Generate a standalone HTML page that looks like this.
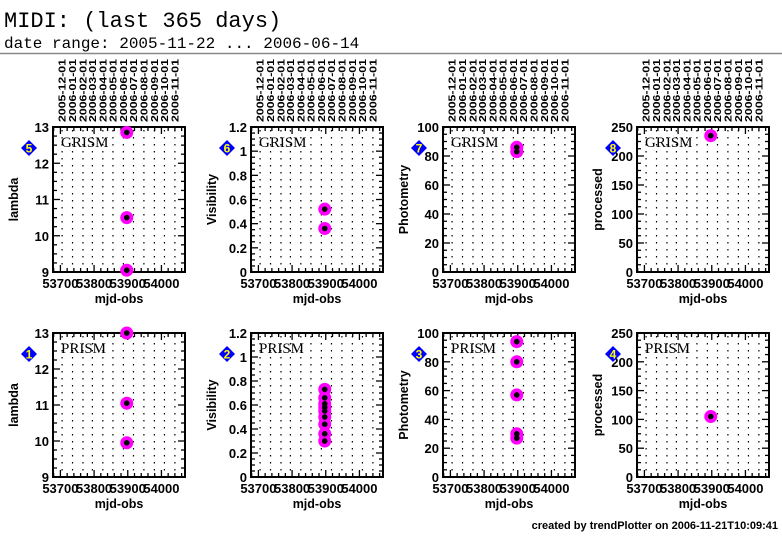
<!DOCTYPE html>
<html><head><meta charset="utf-8"><style>
body{margin:0;background:#fff;width:782px;height:542px;overflow:hidden}
svg text{font-family:"Liberation Sans",sans-serif}
</style></head><body>
<svg id="c" width="782" height="542" xmlns="http://www.w3.org/2000/svg">
<text x="4" y="27" font-size="22" style="font-family:'Liberation Mono',monospace">MIDI: (last 365 days)</text>
<text x="4" y="48" font-size="16" style="font-family:'Liberation Mono',monospace">date range: 2005-11-22 ... 2006-06-14</text>
<line x1="0" y1="53.5" x2="782" y2="53.5" stroke="#888" stroke-width="1.5"/>
<text x="778" y="529" text-anchor="end" font-size="11" font-weight="bold">created by trendPlotter on 2006-11-21T10:09:41</text>
</svg>
<script>
const panelIds=[5,6,7,8,1,2,3,4];
const panelModes=['GRISM','GRISM','GRISM','GRISM','PRISM','PRISM','PRISM','PRISM'];
const yTitles=['lambda','Visibility','Photometry','processed','lambda','Visibility','Photometry','processed'];
const yMins=[9,0,0,0,9,0,0,0];
const yMaxs=[13,1.2,100,250,13,1.2,100,250];
const yStepVals=[1,0.2,20,50,1,0.2,20,50];
const xTickVals=[53700,53800,53900,54000];
const monthLabels=['2005-12-01','2006-01-01','2006-02-01','2006-03-01','2006-04-01','2006-05-01','2006-06-01','2006-07-01','2006-08-01','2006-09-01','2006-10-01','2006-11-01'];
const monthMjd=[53705,53736,53767,53795,53826,53856,53887,53917,53948,53979,54009,54040];
const xMin=53678,xMax=54070;
const pointsX=[
 [53897,53897,53897],[53897,53897],[53897,53897],[53897],
 [53897,53897,53897],[53897,53897,53897,53897,53897,53897,53897,53897,53897],[53897,53897,53897,53897,53897],[53897]];
const pointsY=[
 [12.85,10.5,9.05],[0.52,0.36],[86,83],[235],
 [13.0,11.05,9.95],[0.73,0.66,0.61,0.58,0.55,0.5,0.44,0.36,0.3],[94,80,57,30,27],[105]];
const lefts=[53,251,443,637];
const svg=document.getElementById('c');const NS='http://www.w3.org/2000/svg';
function mk(t,a,p){const e=document.createElementNS(NS,t);for(const k in a)e.setAttribute(k,a[k]);(p||svg).appendChild(e);return e;}
for(let i=0;i<8;i++){
 const L=lefts[i%4],R=L+132,T=i<4?127:333,B=i<4?272:477;
 const g=mk('g',{});
 
 
 const xs=v=>L+(v-xMin)/(xMax-xMin)*(R-L);
 const ys=v=>B-(v-yMins[i])/(yMaxs[i]-yMins[i])*(B-T);
 monthMjd.forEach((m,j)=>{const x=xs(m);
  const gl=mk('line',{x1:x,x2:x,y1:T+3,y2:B-3,stroke:'#000','stroke-width':1.2,'stroke-dasharray':'1.5 5.5'},g);
  
  
  if(i<4){const t=mk('text',{x:0,y:0,'font-size':10,'font-weight':'bold',textLength:63,lengthAdjust:'spacingAndGlyphs',transform:`translate(${x+3.5},${T-5}) rotate(-90)`},g);t.textContent=monthLabels[j];
   
   }
 });
 const box=mk('rect',{x:L,y:T,width:R-L,height:B-T,fill:'none',stroke:'#000','stroke-width':2},g);
 
 
 const st=yStepVals[i];
 for(let k=0;k<=Math.round((yMaxs[i]-yMins[i])/st*4);k++){const v=yMins[i]+k*st/4;const y=ys(v);const maj=k%4==0;
  const len=maj?7:4;
  mk('line',{x1:L,x2:L+len,y1:y,y2:y,stroke:'#000','stroke-width':1.3},g);
  mk('line',{x1:R,x2:R-len,y1:y,y2:y,stroke:'#000','stroke-width':1.3},g);
  if(maj){const t=mk('text',{x:L-4,y:y+5,'text-anchor':'end','font-size':13,'font-weight':'bold'},g);
   t.textContent=String(Math.round(v*10)/10);
   
   }
 }
 for(let v=53680;v<=54060;v+=20){const x=xs(v);const maj=v%100==0;const len=maj?7:4;
  mk('line',{x1:x,x2:x,y1:B,y2:B-len,stroke:'#000','stroke-width':1.3},g);
  mk('line',{x1:x,x2:x,y1:T,y2:T+len,stroke:'#000','stroke-width':1.3},g);}
 xTickVals.forEach(v=>{const t=mk('text',{x:xs(v),y:B+16,'text-anchor':'middle','font-size':13,'font-weight':'bold'},g);t.textContent=v;
  
  });
 const xt=mk('text',{x:(L+R)/2,y:B+31,'text-anchor':'middle','font-size':12.5,'font-weight':'bold'},g);xt.textContent='mjd-obs';
 
 
 const yt=mk('text',{x:0,y:0,'text-anchor':'middle','font-size':12.5,'font-weight':'bold',transform:`translate(${L-35},${(T+B)/2}) rotate(-90)`},g);yt.textContent=yTitles[i];
 
 
 const md=mk('text',{x:L+8,y:T+20,'font-size':15,style:"font-family:'Liberation Serif',serif"},g);md.textContent=panelModes[i];
 
 
 const dx=L-24,dy=T+21;
 const d=mk('polygon',{points:`${dx},${dy-8} ${dx+8},${dy} ${dx},${dy+8} ${dx-8},${dy}`,fill:'#0000ff'},g);
 
 
 const dn=mk('text',{x:dx,y:dy+4.5,'text-anchor':'middle','font-size':12,'font-weight':'bold',fill:'#ffff00'},g);dn.textContent=panelIds[i];
 
 
 pointsX[i].forEach((px,k)=>{const cx=xs(px),cy=ys(pointsY[i][k]);
  const c=mk('circle',{cx:cx,cy:cy,r:6.5,fill:'#ff00ff'},g);
  
  });
 pointsX[i].forEach((px,k)=>{const cx=xs(px),cy=ys(pointsY[i][k]);
  const c=mk('circle',{cx:cx,cy:cy,r:2.8,fill:'#000'},g);
  
  });
}
</script>
</body></html>
